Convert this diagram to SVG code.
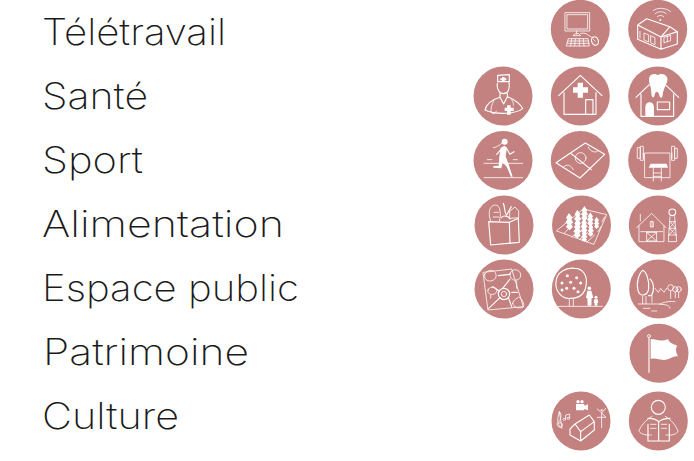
<svg xmlns="http://www.w3.org/2000/svg" width="694" height="461" viewBox="0 0 694 461">
<style>
.bg{fill:#c38180}
.l{font-family:"Inter","Liberation Sans",sans-serif;font-weight:200;font-size:36.5px;fill:#1a1a1a}
.i{fill:none;stroke:#fff;stroke-width:3.4;stroke-linejoin:round;stroke-linecap:round}
.f{fill:#fff;stroke:none}
.t{stroke-width:2.4}
</style>
<rect width="694" height="461" fill="#fff"/>
<g id="labels">
<text class="l" x="42" y="45" textLength="184" lengthAdjust="spacingAndGlyphs">Télétravail</text>
<text class="l" x="42" y="109" textLength="106" lengthAdjust="spacingAndGlyphs">Santé</text>
<text class="l" x="42" y="173" textLength="101" lengthAdjust="spacingAndGlyphs">Sport</text>
<text class="l" x="42" y="237" textLength="242" lengthAdjust="spacingAndGlyphs">Alimentation</text>
<text class="l" x="42" y="301" textLength="257" lengthAdjust="spacingAndGlyphs">Espace public</text>
<text class="l" x="43" y="365" textLength="206" lengthAdjust="spacingAndGlyphs">Patrimoine</text>
<text class="l" x="42" y="429" textLength="137" lengthAdjust="spacingAndGlyphs">Culture</text>
</g>
<g id="connectors"/>

<g id="teletravail-ordinateur"><circle class="bg" cx="580.3" cy="29.3" r="29.5"/>
<g class="i" transform="translate(460 0) scale(.3333)">
<path d="M316 38H389V93H316ZM322 44H383V87H322Z" class="t"/><path d="M350 93V102M340 107H362L356 101H346Z" class="t"/>
<path d="M326 116H384L388 138H320ZM324 123H386M322 130H387M335 116L332 138M346 116L344 138M358 116V138M370 116L372 138" class="t"/>
<path d="M362 100C385 96 385 112 398 112" class="t"/><ellipse cx="405" cy="123" rx="10" ry="13" transform="rotate(-20 405 123)"/><path d="M400 118L406 124" class="t"/>
</g></g>
<g id="teletravail-batiment"><circle class="bg" cx="657.7" cy="29.3" r="29.5"/>
<g class="i" transform="translate(460 0) scale(.3333)">
<path d="M533 75L560 56L630 80L652 95L603 111L533 75ZM533 75V118L603 148V111M652 95V132L603 148M630 80L603 111"/>
<path d="M540 94V114M552 100V120L566 126V106ZM572 108V128L585 134V114ZM613 112L632 106V122L613 128ZM622 109V125" class="t"/>
<circle class="f" cx="601" cy="60" r="3"/><path d="M592 50C597 45 606 45 611 50M586 41C594 33 610 33 619 41M580 32C590 22 618 22 632 35" class="t"/>
</g></g>

<g id="sante-medecin"><circle class="bg" cx="503" cy="96" r="29.5"/>
<g class="i" transform="translate(460 0) scale(.3333)">
<path d="M113 226L148 224V245H113ZM112 250C110 268 118 281 131 281C144 281 150 268 147 246"/>
<path class="f" d="M126 231H134V235H139V241H134V245H126V241H121V235H126Z"/>
<path d="M120 280V292L131 312L142 290V280M120 292C100 298 80 310 75 330C100 342 160 346 188 326C180 308 160 298 142 290"/>
<path d="M102 300C94 316 92 328 93 333M93 333A8 8 0 0 0 109 333M155 300C160 308 162 312 160 316" class="t"/>
<path class="f" d="M141 316H152V323H161V333H152V344H141V333H134V323H141Z"/>
</g></g>
<g id="sante-maison"><circle class="bg" cx="580.3" cy="96" r="29.5"/>
<g class="i" transform="translate(460 0) scale(.3333)">
<path d="M296 287L361 226L426 287M312 278V343H408V278"/><path d="M377 343V299H399V343"/>
<path class="f" d="M353 248H369V262H384V278H369V293H353V278H339V262H353Z"/>
</g></g>
<g id="sante-dentiste"><circle class="bg" cx="657.7" cy="96" r="29.5"/>
<g class="i" transform="translate(460 0) scale(.3333)">
<path d="M528 292L568 254M616 254L656 292M543 282V349H641V282"/>
<path class="f" d="M568 232C574 218 590 222 593 226C600 220 618 220 622 234C625 248 610 262 608 286C607 296 600 296 598 286C596 276 590 272 586 278C583 284 584 294 578 292C572 288 576 270 570 256C568 248 566 240 568 232Z"/>
<path class="f" d="M556 349V322C556 302 582 302 582 322V349Z"/><path d="M592 306H629V329H592Z"/>
</g></g>

<g id="sport-coureuse"><circle class="bg" cx="503" cy="160.5" r="29.5"/>
<g class="i" transform="translate(460 125) scale(.3333)">
<path d="M72 115H188M72 158H188M82 104H96M160 104H172" class="t"/>
<circle class="f" cx="134" cy="50" r="9"/><path d="M128 52C118 62 108 68 100 68" class="t"/>
<path class="f" d="M122 68L134 62L140 70L137 94L146 118L158 155L153 155L140 125L128 112L124 130L100 128L100 123L116 122L118 95Z"/>
<path d="M126 70L110 88M138 68L150 88L162 80"/>
</g></g>
<g id="sport-terrain"><circle class="bg" cx="580.3" cy="160.5" r="29.5"/>
<g class="i" transform="translate(460 125) scale(.3333)">
<path d="M288 113L376 54L434 88L360 159ZM331 84L394 134"/><circle cx="362" cy="99" r="16" class="t"/>
<path d="M309 128C318 116 332 118 340 134M385 66C388 76 400 84 412 80" class="t"/>
</g></g>
<g id="sport-musculation"><circle class="bg" cx="657.7" cy="160.5" r="29.5"/>
<g class="i" transform="translate(460 125) scale(.3333)">
<path d="M555 84H630V158H555ZM550 84V100M636 84V100M533 68H541V100H533ZM542 64H550V106H542ZM636 64H644V106H636ZM645 70H652V100H645Z" class="t"/>
<path class="f" d="M572 116H620L624 128H566Z"/><path d="M580 128V168M604 128V168M580 144H604M580 154H604" class="t"/>
</g></g>

<g id="alimentation-sac"><circle class="bg" cx="504" cy="225" r="29.5"/>
<g class="i" transform="translate(460 125) scale(.3333)">
<path d="M86 290L148 292L175 280L178 352L92 360Z"/><path d="M148 292L150 355"/>
<path d="M92 288C82 262 90 240 106 240C122 240 124 270 118 288M102 262H116M100 276H116" class="t"/>
<path d="M130 235C136 250 132 262 140 270C146 260 150 250 154 245M124 278C130 270 145 272 150 282"/>
<path d="M150 258L165 246L176 258V278L150 280Z" class="t"/>
</g></g>
<g id="alimentation-champ"><circle class="bg" cx="581.5" cy="225" r="29.5"/>
<g class="i" transform="translate(460 125) scale(.3333)">
<path d="M290 317L370 252L440 269L402 357Z" class="t"/>
<path d="M312 326L336 300M335 336L360 312M358 344L384 322M380 352L404 330M414 320L424 304M426 290L434 276" class="t"/>
<g class="f"><path id="tr" d="M327 264L338 278L334 283L340 293L333 297L339 306L329 316L318 306L323 297L316 293L322 283L318 278Z"/>
<path d="M352 254L362 268L358 273L364 283L358 287L363 296L353 306L343 296L348 287L342 283L348 273L344 268Z"/>
<path d="M373 243L382 256L379 260L384 268L379 272L383 280L373 290L364 280L368 272L363 268L368 260L365 256Z"/>
<path d="M352 292L362 306L358 311L364 320L358 324L362 332L352 340L342 332L346 324L340 320L346 311L342 306Z"/>
<path d="M372 280L381 293L378 297L383 305L378 309L382 317L372 326L363 317L367 309L362 305L367 297L364 293Z"/>
<path d="M391 262L399 274L396 278L401 285L396 288L400 296L391 304L382 296L386 288L381 285L386 278L383 274Z"/>
<path d="M373 315L382 326L378 330L383 336L378 339L381 346L373 350L364 346L368 339L363 336L368 330L365 326Z"/>
<path d="M392 296L400 307L397 311L402 318L397 321L400 328L392 335L384 328L388 321L383 318L388 311L385 307Z"/>
<path d="M410 276L417 286L414 290L418 296L414 299L417 305L410 312L403 305L406 299L402 296L406 290L403 286Z"/></g>
</g></g>
<g id="alimentation-ferme"><circle class="bg" cx="658.3" cy="225" r="29.5"/>
<g class="i" transform="translate(460 125) scale(.3333)">
<path d="M530 308L575 265L618 308M537 302V350H612V302M541 288V268M576 288V305" class="t"/>
<path d="M542 320H608M560 322V348H590V322H560L590 348M590 322L560 348M572 290H580V306H572Z" class="t"/>
<circle cx="637" cy="262" r="10"/><path d="M630 275L625 350H650L644 275M630 290H645M628 310H647M626 330H649M630 290L647 310M645 290L628 310M628 310L649 330M647 310L626 330" class="t"/>
</g></g>

<g id="espace-carte"><circle class="bg" cx="504" cy="289" r="29.5"/>
<g class="i" transform="translate(460 255) scale(.3333)">
<path d="M70 52L155 42L190 155L85 165Z" class="t"/>
<path d="M115 62L150 58M150 72L128 100M98 95L118 108M86 160L120 128M146 130L155 155M155 112H172" />
<circle cx="132" cy="117" r="17"/><circle cx="132" cy="117" r="8" class="t"/>
<path class="t" d="M74 58C80 42 105 42 108 58C110 72 100 78 88 78C78 78 72 68 74 58ZM150 55C156 38 182 42 182 60C182 74 172 74 164 76C156 74 148 66 150 55ZM84 105C86 94 106 94 110 104C112 114 102 120 92 118C86 116 82 112 84 105ZM158 145C160 132 172 132 176 126C186 130 194 148 190 156C178 162 160 158 158 145Z"/>
<path d="M92 120V130M170 78V100" class="t"/>
</g></g>
<g id="espace-arbre"><circle class="bg" cx="581.3" cy="289" r="29.5"/>
<g class="i" transform="translate(460 255) scale(.3333)">
<path d="M332 130C306 134 284 108 288 80C290 52 318 36 345 40C368 40 384 62 378 92C376 114 360 130 332 130Z"/>
<path d="M328 130V152M340 130V152" class="t"/><path d="M295 154H428" class="t"/>
<g class="f"><circle cx="322" cy="62" r="4.5"/><circle cx="350" cy="68" r="4.5"/><circle cx="306" cy="84" r="4.5"/><circle cx="332" cy="82" r="4.5"/><circle cx="362" cy="84" r="4.5"/><circle cx="320" cy="100" r="4.5"/><circle cx="342" cy="100" r="4.5"/><circle cx="354" cy="110" r="4.5"/><circle cx="306" cy="105" r="4.5"/></g>
<circle class="f" cx="388" cy="100" r="5.5"/><path class="f" d="M382 107H394L400 128L395 130L394 152H383L382 130L378 128Z"/><circle class="f" cx="408" cy="127" r="4.5"/><path class="f" d="M403 133H413L415 143L412 144V152H404V144L401 143Z"/>
</g></g>
<g id="espace-parc"><circle class="bg" cx="658.7" cy="289" r="29.5"/>
<g class="i" transform="translate(460 255) scale(.3333)">
<path d="M548 46C560 50 568 78 566 100C564 122 540 128 534 106C528 86 536 56 548 46Z"/>
<path d="M570 72C582 82 584 108 574 122L566 122"/><path d="M548 124V146M558 124V146M576 122V142" class="t"/>
<path d="M535 147H600C612 142 622 138 645 140M600 148C618 148 632 152 630 160M585 100L595 112L602 100L612 112L620 100" class="t"/>
<circle cx="632" cy="98" r="9" class="t"/><circle cx="646" cy="103" r="8" class="t"/><circle cx="656" cy="103" r="8" class="t"/><path d="M632 108V130M646 112V128M656 112V128" class="t"/>
<path d="M550 160H570M575 168H590" class="t"/>
</g></g>

<g id="patrimoine-drapeau"><circle class="bg" cx="659" cy="353.3" r="29.5"/>
<g class="i" transform="translate(460 255) scale(.3333)">
<circle cx="567" cy="243" r="4.5" class="t"/><path d="M567 248V352"/>
<path class="f" d="M572 252C590 252 600 262 624 252C628 266 644 268 652 272C644 282 650 294 654 305C640 300 630 316 610 315C596 314 586 308 572 312Z"/>
</g></g>

<g id="culture-arts"><circle class="bg" cx="581" cy="421" r="29.5"/>
<g class="i" transform="translate(460 255) scale(.3333)">
<path d="M330 522L345 507L362 530V558L330 540ZM345 507L388 480L403 500L362 530M403 500V525L362 558" />
<path class="f" d="M348 447H373V466H348ZM372 453L384 448V466L372 461Z"/><circle class="f" cx="354" cy="440" r="5"/><circle class="f" cx="366" cy="440" r="5"/>
<path d="M302 518C290 505 292 490 298 470C306 478 304 492 296 500C288 506 292 520 304 516C312 510 304 498 298 504M298 470L306 520" class="t"/>
<path d="M317 492V480L329 477V489M317 492A4 3 0 1 1 314 490M329 489A4 3 0 1 1 326 487" class="t"/>
<circle class="f" cx="425" cy="466" r="3"/><path d="M412 462L425 474L437 460M425 474V518M412 487H438L425 474" class="t"/>
</g></g>
<g id="culture-lecture"><circle class="bg" cx="658.3" cy="421" r="29.5"/>
<g class="i" transform="translate(460 255) scale(.3333)">
<circle cx="595" cy="457" r="21"/>
<path d="M564 508V558H628V508M596 500V558M564 490C578 490 590 494 596 500C604 494 616 490 630 490" />
<path d="M576 484C560 492 545 510 537 526C537 536 556 542 574 540M616 484C634 494 648 512 654 528C652 538 634 542 618 540M572 508H588M572 520H588M604 508H620M604 520H620" class="t"/>
</g></g>
</svg>
